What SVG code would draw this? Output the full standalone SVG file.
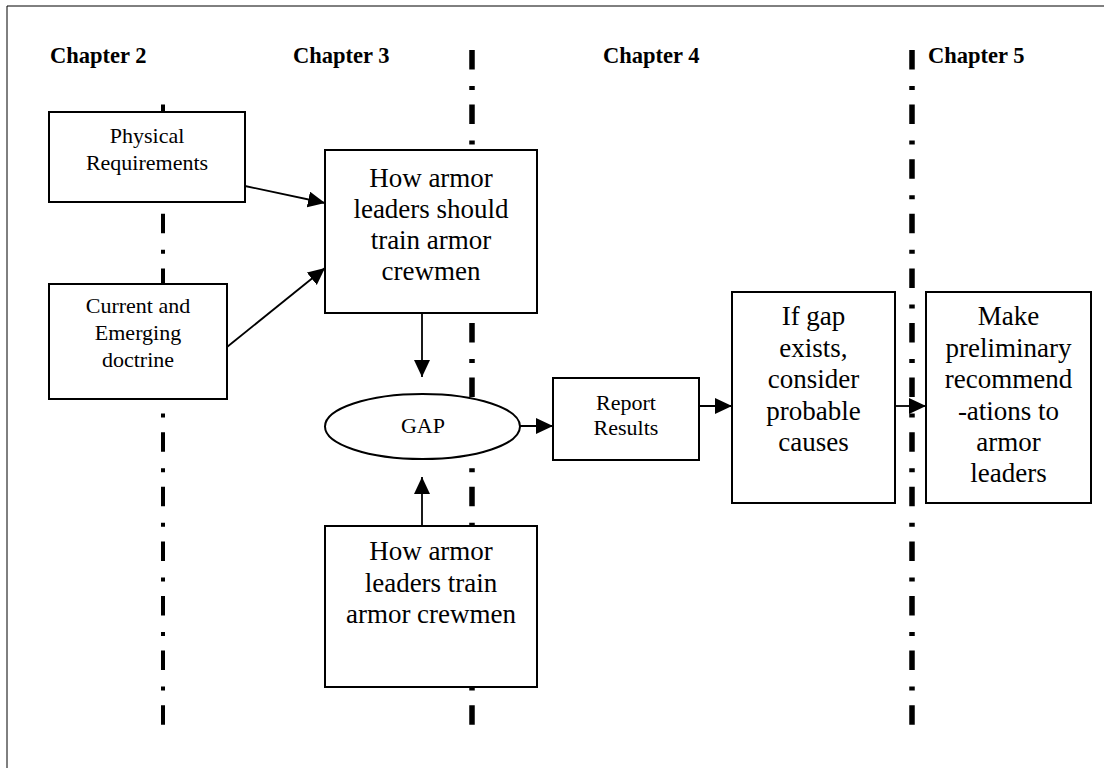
<svg xmlns="http://www.w3.org/2000/svg" width="1104" height="768" viewBox="0 0 1104 768">
<style>
  .frame { fill: none; stroke: #000; stroke-width: 1; }
  .div { fill: none; stroke: #000; stroke-dasharray: 19.5 16.5 4 14.6; }
  .box { fill: #fff; stroke: #000; stroke-width: 2; }
  .ch { font-family: "Liberation Serif", "Times New Roman", serif; font-weight: bold; font-size: 22.5px; fill: #000; }
  .t { font-family: "Liberation Serif", "Times New Roman", serif; fill: #000; text-anchor: middle; }
  .s { font-size: 22px; }
  .l { font-size: 27px; }
  .conn { fill: none; stroke: #000; stroke-width: 1.8; }
</style>
<defs>
  <marker id="ah" markerUnits="userSpaceOnUse" markerWidth="19" markerHeight="17" refX="17" refY="8" orient="auto">
    <path d="M0,0 L17,8 L0,16 z" fill="#000"/>
  </marker>
</defs>
<rect width="1104" height="768" fill="#fff"/>
<path class="frame" d="M7,768 L7,6 L1104,6"/>

<g id="dividers">
  <line class="div" x1="163" y1="104.6" x2="163" y2="725" stroke-width="4"/>
  <line class="div" x1="472" y1="50" x2="472" y2="726" stroke-width="5.5"/>
  <line class="div" x1="912" y1="50" x2="912" y2="726" stroke-width="5.5"/>
</g>

<g id="labels">
  <text class="ch" x="50" y="63">Chapter 2</text>
  <text class="ch" x="293" y="63">Chapter 3</text>
  <text class="ch" x="603" y="63">Chapter 4</text>
  <text class="ch" x="928" y="63">Chapter 5</text>
</g>

<g id="physical">
  <rect class="box" x="49" y="112" width="196" height="90"/>
  <text class="t s" x="147" y="143">Physical</text>
  <text class="t s" x="147" y="170">Requirements</text>
</g>

<g id="doctrine">
  <rect class="box" x="49" y="284" width="178" height="115"/>
  <text class="t s" x="138" y="313">Current and</text>
  <text class="t s" x="138" y="340">Emerging</text>
  <text class="t s" x="138" y="367">doctrine</text>
</g>

<g id="should">
  <rect class="box" x="325" y="150" width="212" height="163"/>
  <text class="t l" x="431" y="187">How armor</text>
  <text class="t l" x="431" y="218">leaders should</text>
  <text class="t l" x="431" y="249">train armor</text>
  <text class="t l" x="431" y="280">crewmen</text>
</g>

<g id="gap">
  <ellipse class="box" cx="422.5" cy="426.5" rx="97.5" ry="32.5"/>
  <text class="t s" x="423" y="433">GAP</text>
</g>

<g id="actual">
  <rect class="box" x="325" y="526" width="212" height="161"/>
  <text class="t l" x="431" y="560">How armor</text>
  <text class="t l" x="431" y="592">leaders train</text>
  <text class="t l" x="431" y="623">armor crewmen</text>
</g>

<g id="report">
  <rect class="box" x="553" y="378" width="146" height="82"/>
  <text class="t s" x="626" y="410">Report</text>
  <text class="t s" x="626" y="435">Results</text>
</g>

<g id="causes">
  <rect class="box" x="732" y="292" width="163" height="211"/>
  <text class="t l" x="813.5" y="325">If gap</text>
  <text class="t l" x="813.5" y="356.5">exists,</text>
  <text class="t l" x="813.5" y="388">consider</text>
  <text class="t l" x="813.5" y="419.5">probable</text>
  <text class="t l" x="813.5" y="451">causes</text>
</g>

<g id="recommend">
  <rect class="box" x="926" y="292" width="165" height="211"/>
  <text class="t l" x="1008.5" y="325">Make</text>
  <text class="t l" x="1008.5" y="356.5">preliminary</text>
  <text class="t l" x="1008.5" y="388">recommend</text>
  <text class="t l" x="1008.5" y="419.5">-ations to</text>
  <text class="t l" x="1008.5" y="451">armor</text>
  <text class="t l" x="1008.5" y="482">leaders</text>
</g>

<g id="connectors">
  <line class="conn" x1="245" y1="186" x2="325" y2="203" marker-end="url(#ah)"/>
  <line class="conn" x1="227" y1="347" x2="325" y2="268" marker-end="url(#ah)"/>
  <line class="conn" x1="422" y1="313" x2="422" y2="377" marker-end="url(#ah)"/>
  <line class="conn" x1="422" y1="526" x2="422" y2="477" marker-end="url(#ah)"/>
  <line class="conn" x1="520" y1="426" x2="553" y2="426" marker-end="url(#ah)"/>
  <line class="conn" x1="699" y1="406" x2="732" y2="406" marker-end="url(#ah)"/>
  <line class="conn" x1="895" y1="406" x2="926" y2="406" marker-end="url(#ah)"/>
</g>
</svg>
